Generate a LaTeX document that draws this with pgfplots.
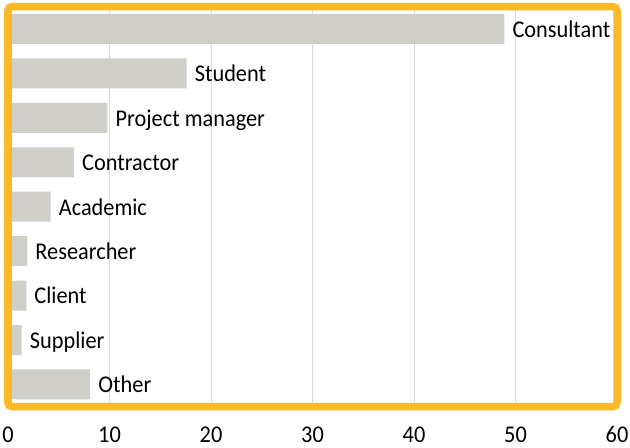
\documentclass[border=0pt]{standalone}
\usepackage{pgfplots}
\pgfplotsset{compat=1.18}
\usepackage{fontspec}
\setmainfont{Carlito}[FakeStretch=0.93]
\definecolor{frameorange}{RGB}{250,185,40}
\definecolor{bargray}{RGB}{208,206,200}
\definecolor{gridgray}{RGB}{217,217,217}
\begin{document}
\fontsize{24bp}{28bp}\selectfont
\begin{tikzpicture}
\begin{axis}[
  at={(0,0)}, anchor=south west,
  scale only axis, width=609bp, height=400bp,
  xbar, bar width=30bp,
  xmin=0, xmax=60, ymin=-0.5, ymax=8.5, y dir=reverse,
  xtick={0,10,...,60}, ytick=\empty,
  xmajorgrids, major grid style={gridgray, line width=1bp},
  axis line style={draw=none},
  major tick length=0pt,
  xticklabel style={anchor=base, inner sep=0pt, yshift=-35.3bp, font=\fontsize{24bp}{28bp}\selectfont},
  /pgf/number format/assume math mode=true,
  point meta=explicit symbolic,
  nodes near coords,
  nodes near coords style={anchor=base west, inner sep=0pt, xshift=8bp, yshift=-8.3bp, font=\fontsize{24bp}{28bp}\selectfont, text=black},
  clip=false,
]
\addplot[fill=bargray, draw=none] coordinates {
  (48.9,0) [Consultant]
  (17.6,1) [Student]
  (9.8,2) [Project manager]
  (6.5,3) [Contractor]
  (4.2,4) [Academic]
  (1.9,5) [Researcher]
  (1.8,6) [Client]
  (1.35,7) [Supplier]
  (8.1,8) [Other]
};
\end{axis}
\draw[frameorange, line width=7.5bp, rounded corners=4bp] (0,0) rectangle (609bp,400bp);
\pgfresetboundingbox
\path[use as bounding box] (-8bp,-41.3bp) rectangle (622bp,406.7bp);
\end{tikzpicture}
\end{document}
